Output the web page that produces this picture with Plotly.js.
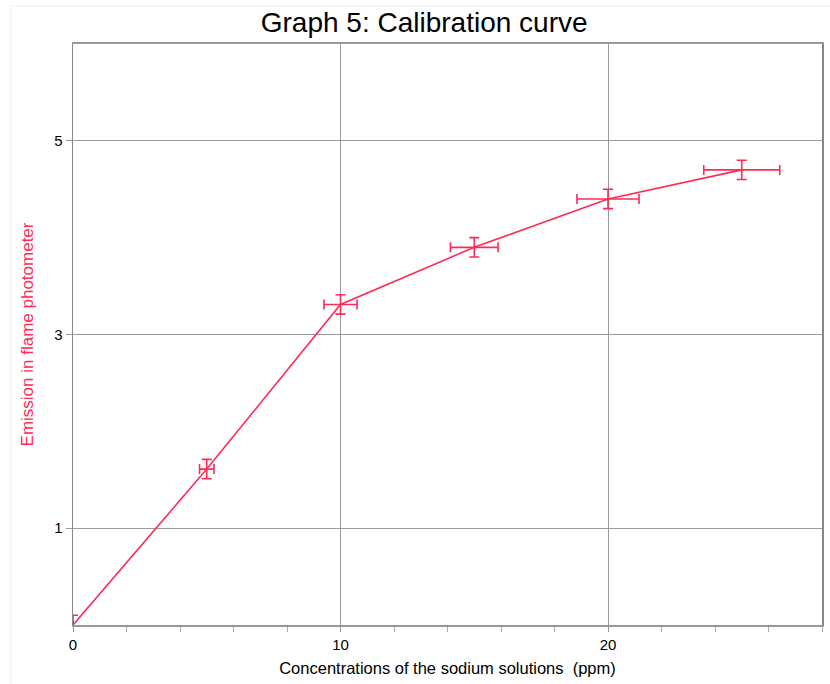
<!DOCTYPE html>
<html>
<head>
<meta charset="utf-8">
<script src="https://cdn.plot.ly/plotly-3.0.1.min.js"></script>
<style>html,body{margin:0;padding:0;background:#fff;}#chart{width:830px;height:684px;}</style>
</head>
<body>
<div id="chart"></div>
<script>
const concentration = [0, 5, 10, 15, 20, 25];
const emission = [0, 1.61, 3.31, 3.90, 4.40, 4.70];
const emissionError = [0.1, 0.1, 0.1, 0.1, 0.1, 0.1];
const concentrationError = [0, 0.27, 0.62, 0.89, 1.16, 1.42];
const yTicks = [1, 3, 5];
const xTicks = [0, 10, 20];

const red = '#ff2a55';
const trace = {
  x: concentration,
  y: emission,
  mode: 'lines',
  type: 'scatter',
  line: {color: red, width: 1.6},
  error_y: {type: 'data', array: emissionError, visible: true, color: red, thickness: 1.6, width: 5},
  error_x: {type: 'data', array: concentrationError, visible: true, color: red, thickness: 1.6, width: 5},
  cliponaxis: false,
  hoverinfo: 'x+y'
};

const layout = {
  width: 830, height: 684,
  margin: {l: 73, r: 8, t: 44, b: 59},
  paper_bgcolor: '#fff', plot_bgcolor: '#fff',
  font: {family: 'Liberation Sans, Arial, sans-serif', color: '#000', size: 15},
  title: {text: 'Graph 5: Calibration curve', xref: 'container', x: 0.511, xanchor: 'center', y: 0.967, yanchor: 'middle',
          font: {size: 28, color: '#000'}},
  showlegend: false,
  xaxis: {
    range: [0, 28], tickvals: xTicks, ticks: 'outside', ticklen: 5, tickcolor: '#999',
    showgrid: true, gridcolor: '#9a9a9a', gridwidth: 1, zeroline: false,
    showline: true, linecolor: '#999', linewidth: 2, mirror: true,
    minor: {dtick: 2, tick0: 0, ticks: 'outside', ticklen: 5, tickcolor: '#aaa', showgrid: false},
    tickfont: {size: 15},
    title: {text: 'Concentrations of the sodium solutions&nbsp;&nbsp;(ppm)', font: {size: 16.5, color: '#000'}, standoff: 10}
  },
  yaxis: {
    range: [0, 6], tickvals: yTicks, ticks: 'outside', ticklen: 6, tickcolor: '#999',
    showgrid: true, gridcolor: '#9a9a9a', gridwidth: 1, zeroline: false,
    showline: true, linecolor: '#888', linewidth: 1.5, mirror: true,
    tickfont: {size: 15},
    title: {text: 'Emission in flame photometer', font: {size: 17, color: red}, standoff: 16}
  },
  shapes: [
    {type: 'rect', xref: 'paper', yref: 'paper', x0: -0.083, x1: 1.02, y0: -0.12, y1: 1.065,
     line: {color: '#eeeeee', width: 1}, layer: 'below'}
  ]
};

Plotly.newPlot('chart', [trace], layout, {displayModeBar: false, staticPlot: true});
</script>
</body>
</html>
